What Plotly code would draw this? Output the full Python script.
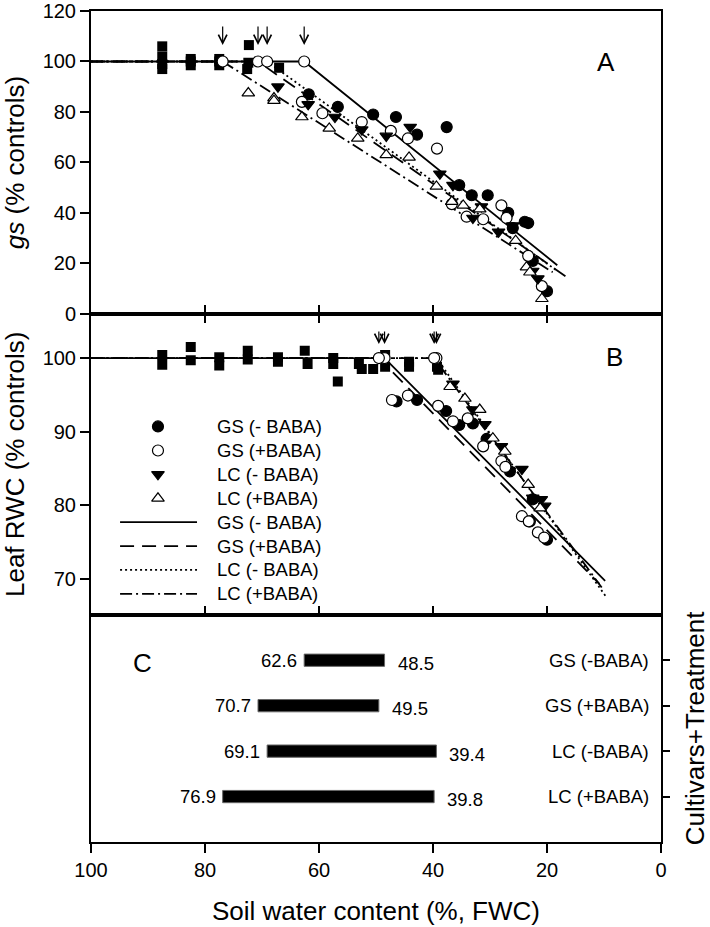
import plotly.graph_objects as go

# treatment groups (same order everywhere)
groups = ["GS (-BABA)", "GS (+BABA)", "LC (-BABA)", "LC (+BABA)"]
legend_names = ["GS (- BABA)", "GS (+BABA)", "LC (- BABA)", "LC (+BABA)"]

# threshold soil water contents (%FWC): gs decline starts / RWC decline starts
gs_break = [62.6, 70.7, 69.1, 76.9]
rwc_break = [48.5, 49.5, 39.4, 39.8]

# ends of the fitted declining lines
gs_end_x = [18.2, 16.3, 18.5, 19.0]
gs_end_y = [19.3, 14.2, 17.5, 16.5]
rwc_end_x = [9.8, 10.8, 9.5, 10.4]
rwc_end_y = [69.7, 69.3, 67.4, 68.8]

# panel A: gs (% controls)
a_ctrl_x = [87.5, 87.5, 87.5, 87.5, 82.5, 82.5, 82.5, 77.5, 77.5, 77.5, 72.3, 72.4, 72.6, 67.0]
a_ctrl_y = [106, 102, 99, 97, 101, 100, 98.5, 101, 100, 98.5, 106.5, 99.5, 97, 97.5]
a_x = [
    [61.8, 56.7, 50.5, 46.5, 42.8, 37.6, 35.4, 33.2, 30.4, 26.8, 26.0, 23.9, 23.3, 22.5, 20.0],
    [63.0, 59.4, 52.5, 47.4, 44.4, 39.3, 36.7, 34.1, 31.2, 28.0, 27.1, 23.3, 20.9],
    [67.2, 61.9, 57.2, 52.5, 48.2, 44.0, 38.8, 36.5, 33.0, 31.5, 28.5, 26.0, 22.5, 21.6],
    [72.4, 67.9, 67.9, 63.0, 58.2, 53.2, 48.2, 44.2, 39.4, 36.7, 34.7, 31.8, 25.5, 23.6, 23.0, 20.9],
]
a_y = [
    [87, 82, 79, 78, 71, 74, 51, 47, 47, 40, 34, 36.5, 36, 21, 9],
    [84, 79.5, 76, 72.5, 69.5, 65.5, 43.5, 38.5, 37.5, 43, 38, 23, 11],
    [90, 83, 78, 73, 70.5, 74, 55.5, 51, 38, 42.5, 32.5, 35, 17, 14],
    [87.5, 85.5, 84.5, 78, 73.5, 69.5, 63, 62, 50.5, 44.5, 43, 41.5, 29, 18.5, 16.5, 6],
]

# panel B: leaf RWC (% controls)
b_ctrl_x = [87.5, 87.5, 82.5, 82.5, 77.5, 77.5, 72.5, 72.5, 67.2, 67.2, 62.5, 62.0, 57.5, 57.5,
            56.7, 53.0, 52.5, 50.5, 48.4, 48.4, 44.2, 44.2, 39.3, 39.1]
b_ctrl_y = [100.4, 99.1, 101.5, 99.7, 100.1, 99.0, 101.0, 99.8, 100.1, 99.5, 101.0, 99.2, 100.0, 99.2,
            96.8, 99.2, 98.5, 98.5, 100.4, 98.8, 99.5, 98.8, 98.8, 98.4]
b_x = [
    [46.4, 42.8, 37.7, 35.4, 33.0, 30.6, 26.5, 22.5, 23.0, 20.0],
    [47.2, 44.4, 39.1, 36.5, 33.9, 31.2, 28.0, 27.3, 24.4, 23.2, 21.6, 20.5],
    [36.5, 33.0, 30.9, 28.0, 24.4, 22.5, 20.4, 21.0],
    [37.0, 34.4, 31.8, 29.5, 27.4, 23.3, 21.2],
]
b_y = [
    [94.1, 94.3, 92.8, 90.9, 91.1, 89.0, 84.6, 80.8, 77.8, 75.3],
    [94.3, 94.9, 93.5, 91.4, 91.8, 88.0, 86.0, 85.2, 78.5, 77.8, 76.3, 75.6],
    [96.5, 93.0, 91.0, 88.0, 84.9, 81.0, 79.9, 80.8],
    [96.1, 94.5, 93.0, 89.1, 87.3, 82.8, 79.6],
]

FONT = "Liberation Sans, Arial, sans-serif"
symbols = ["circle", "circle", "triangle-down", "triangle-up"]
fills = ["black", "white", "black", "white"]
dashes = ["solid", "14px,8px", "2px,3px", "12px,4px,2px,4px"]

fig = go.Figure()

# fitted broken-stick lines
for i in range(4):
    fig.add_trace(go.Scatter(x=[100, gs_break[i], gs_end_x[i]], y=[100, 100, gs_end_y[i]],
                             mode="lines", line=dict(color="black", width=1.8, dash=dashes[i]),
                             xaxis="x", yaxis="y", showlegend=False))
    fig.add_trace(go.Scatter(x=[100, rwc_break[i], rwc_end_x[i]], y=[100, 100, rwc_end_y[i]],
                             mode="lines", line=dict(color="black", width=1.8, dash=dashes[i]),
                             xaxis="x2", yaxis="y2", showlegend=False))

# well-watered points
fig.add_trace(go.Scatter(x=a_ctrl_x, y=a_ctrl_y, mode="markers", xaxis="x", yaxis="y",
                         marker=dict(symbol="square", size=10, color="black"), showlegend=False))
fig.add_trace(go.Scatter(x=b_ctrl_x, y=b_ctrl_y, mode="markers", xaxis="x2", yaxis="y2",
                         marker=dict(symbol="square", size=10, color="black"), showlegend=False))

# treatment points
for i in range(4):
    mk = dict(symbol=symbols[i], size=11, color=fills[i], line=dict(color="black", width=1.2))
    fig.add_trace(go.Scatter(x=a_x[i], y=a_y[i], mode="markers", xaxis="x", yaxis="y",
                             marker=mk, showlegend=False))
    fig.add_trace(go.Scatter(x=b_x[i], y=b_y[i], mode="markers", xaxis="x2", yaxis="y2",
                             marker=mk, showlegend=False))

# breakpoints (open circles)
bp = dict(symbol="circle", size=11, color="white", line=dict(color="black", width=1.2))
fig.add_trace(go.Scatter(x=gs_break, y=[100] * 4, mode="markers", xaxis="x", yaxis="y",
                         marker=bp, showlegend=False))
fig.add_trace(go.Scatter(x=rwc_break, y=[100] * 4, mode="markers", xaxis="x2", yaxis="y2",
                         marker=bp, showlegend=False))

# panel C: threshold ranges
fig.add_trace(go.Bar(y=groups, x=[e - s for s, e in zip(gs_break, rwc_break)], base=gs_break,
                     orientation="h", width=0.27, xaxis="x3", yaxis="y3",
                     marker=dict(color="black", line=dict(color="#666666", width=1)), showlegend=False))

# manual legend inside panel B
leg_rows = [0.626, 0.546, 0.467, 0.387, 0.308, 0.228, 0.149, 0.0695]
for i in range(4):
    fig.add_trace(go.Scatter(x=[0.1175], y=[leg_rows[i]], mode="markers", xaxis="x4", yaxis="y4",
                             marker=dict(symbol=symbols[i], size=11, color=fills[i],
                                         line=dict(color="black", width=1.2)), showlegend=False))
    fig.add_shape(type="line", xref="x2 domain", yref="y2 domain", x0=0.051, x1=0.186,
                  y0=leg_rows[i + 4], y1=leg_rows[i + 4], line=dict(color="black", width=1.8, dash=dashes[i]))
annotations = []
for i in range(8):
    annotations.append(dict(xref="x2 domain", yref="y2 domain", x=0.2175, y=leg_rows[i],
                            text=legend_names[i % 4], showarrow=False, xanchor="left", yanchor="middle",
                            font=dict(size=18.5)))

# arrows marking the thresholds
for v in gs_break:
    annotations.append(dict(x=v, y=106.5, xref="x", yref="y", ax=0, ay=-20, text="",
                            showarrow=True, arrowhead=5, arrowsize=1.4, arrowwidth=1.2,
                            arrowcolor="black"))
for v in rwc_break:
    annotations.append(dict(x=v, y=101.9, xref="x2", yref="y2", ax=0, ay=-14, text="",
                            showarrow=True, arrowhead=5, arrowsize=1.4, arrowwidth=1.2,
                            arrowcolor="black"))

# bar value labels and category labels (inside the right edge of panel C)
for g, s, e in zip(groups, gs_break, rwc_break):
    annotations.append(dict(x=s, y=g, xref="x3", yref="y3", text=f"{s}", showarrow=False,
                            xanchor="right", xshift=-5, font=dict(size=18.5)))
    annotations.append(dict(x=e, y=g, xref="x3", yref="y3", text=f"{e}", showarrow=False,
                            xanchor="left", xshift=11, yshift=-3, font=dict(size=18.5)))
    annotations.append(dict(x=1, y=g, xref="x3 domain", yref="y3", text=g, showarrow=False,
                            xanchor="right", xshift=-10, font=dict(size=18.5)))

# panel letters
annotations += [
    dict(xref="x domain", yref="y domain", x=0.923, y=0.888, text="A", showarrow=False, font=dict(size=26)),
    dict(xref="x2 domain", yref="y2 domain", x=0.937, y=0.914, text="B", showarrow=False, font=dict(size=26)),
    dict(xref="x3 domain", yref="y3 domain", x=0.07, y=0.864, text="C", showarrow=False, font=dict(size=26)),
]

ax_common = dict(range=[100, 0], showline=True, linecolor="black", linewidth=2,
                 tickcolor="black", tickwidth=2, ticklen=9, showgrid=False, zeroline=False,
                 tickmode="linear", tick0=0, dtick=20, automargin=False, ticklabeloverflow="allow")
fig.update_layout(
    width=710, height=927,
    margin=dict(l=91, r=49, t=11, b=85),
    plot_bgcolor="white", paper_bgcolor="white",
    font=dict(family=FONT, size=20, color="black"),
    annotations=annotations,
    xaxis=dict(ax_common, anchor="y", ticks="inside", mirror=True, showticklabels=False),
    xaxis2=dict(ax_common, anchor="y2", ticks="inside", mirror="ticks", showticklabels=False),
    xaxis3=dict(ax_common, anchor="y3", ticks="outside", mirror=True,
                title=dict(text="Soil water content (%, FWC)", font=dict(size=26), standoff=22)),
    xaxis5=dict(ax_common, anchor="y3", overlaying="x3", side="top", ticks="inside",
                showticklabels=False),
    xaxis4=dict(range=[0, 1], overlaying="x2", anchor="y4", visible=False),
    yaxis=dict(domain=[0.6355, 1], range=[0, 120], dtick=20, showline=True, mirror=True,
               linecolor="black", linewidth=2, ticks="outside", ticklen=9, tickwidth=2,
               tickcolor="black", showgrid=False, zeroline=False, automargin=False,
               ticklabeloverflow="allow",
               title=dict(text="<i>gs</i> (% controls)", font=dict(size=26), standoff=12)),
    yaxis2=dict(domain=[0.2734, 0.6355], range=[65.1, 106], tickvals=[70, 80, 90, 100],
                showline=True, mirror=True, linecolor="black", linewidth=2, ticks="outside",
                ticklen=9, tickwidth=2, tickcolor="black", showgrid=False, zeroline=False,
                automargin=False,
                title=dict(text="Leaf RWC (% controls)", font=dict(size=26), standoff=12)),
    yaxis3=dict(domain=[0, 0.2734], type="category", categoryarray=groups, categoryorder="array",
                range=[4, -1], side="right", showticklabels=False,
                showline=True, mirror=True, linecolor="black", linewidth=2, ticks="outside",
                ticklen=7, tickwidth=2, tickcolor="black", showgrid=False, zeroline=False,
                automargin=False,
                title=dict(text="Cultivars+Treatment", font=dict(size=26), standoff=26)),
    yaxis4=dict(range=[0, 1], overlaying="y2", visible=False),
)

fig.write_html("out.html", post_script="document.body.style.margin='0';",
               config={"displayModeBar": False})
